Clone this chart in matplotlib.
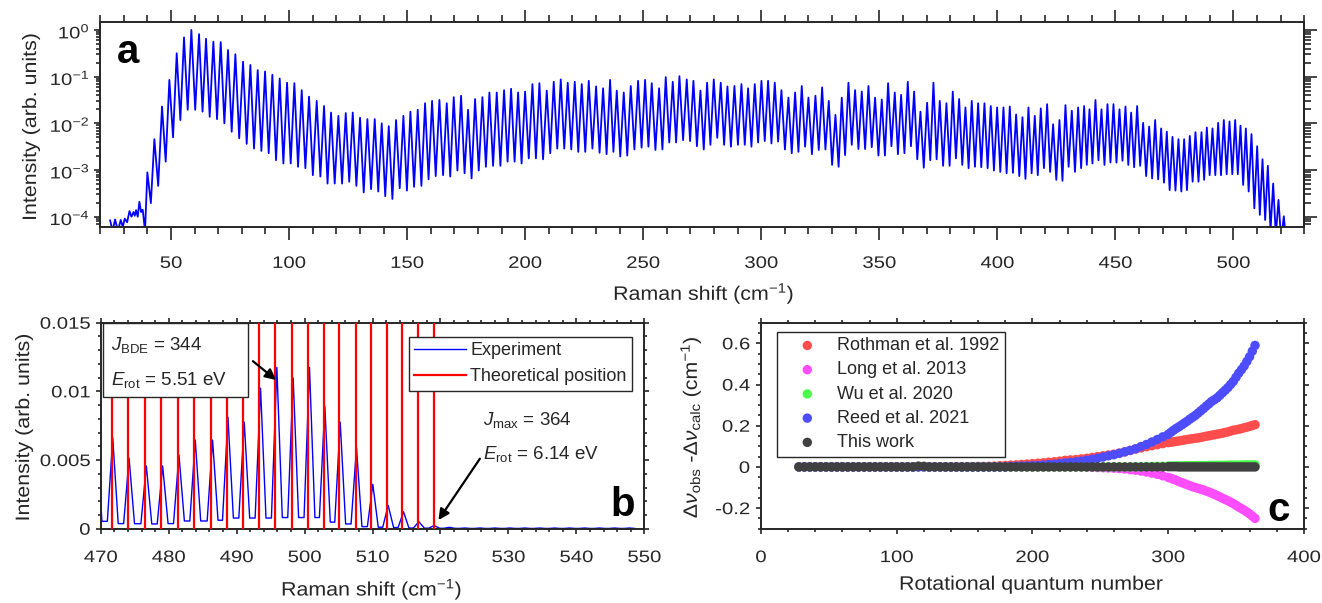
import numpy as np
import matplotlib
matplotlib.use('agg')
import matplotlib.pyplot as plt
from matplotlib.ticker import MultipleLocator, FixedLocator, LogLocator, NullFormatter
from matplotlib.patches import Rectangle
from matplotlib.patheffects import AbstractPathEffect
from matplotlib.transforms import Affine2D

INK = '#262626'
plt.rcParams['font.family'] = ['Liberation Sans', 'DejaVu Sans']
plt.rcParams['mathtext.fontset'] = 'custom'
plt.rcParams['mathtext.rm'] = 'Liberation Sans'
plt.rcParams['mathtext.it'] = 'Liberation Sans:italic'
plt.rcParams['mathtext.bf'] = 'Liberation Sans:bold'
plt.rcParams['axes.unicode_minus'] = False
plt.rcParams['text.color'] = INK
plt.rcParams['axes.labelcolor'] = INK
plt.rcParams['xtick.color'] = INK
plt.rcParams['ytick.color'] = INK

# ---- rotational Raman spectrum: line positions (cm^-1), log10 of peak tops and of the minimum after each line
peak_shift = [
    24.2, 26.3, 28.7, 30.4, 32.4, 34.1, 35.2, 36.6, 38.0,
    39.97, 42.94, 46.18, 49.29, 52.40, 55.50, 58.61, 61.86, 64.82, 67.93,
    71.04, 74.14, 77.25, 80.50, 83.60, 86.71, 89.82, 92.92, 96.03, 99.14,
    102.24, 105.35, 108.45, 111.70, 114.81, 117.77, 120.88, 124.00, 126.96, 130.06,
    133.17, 136.28, 139.24, 142.21, 145.31, 148.42, 151.39, 154.49, 157.60, 160.56,
    163.67, 166.78, 169.74, 172.85, 175.81, 178.78, 181.89, 184.85, 187.96, 191.06,
    194.03, 197.00, 199.96, 203.07, 206.03, 209.14, 212.10, 215.07, 218.03, 221.00,
    223.96, 226.93, 230.03, 233.00, 235.96, 238.79, 241.75, 244.72, 247.82, 250.79,
    253.61, 256.72, 259.54, 262.51, 265.33, 268.44, 271.26, 274.23, 277.05, 279.88,
    282.84, 285.67, 288.63, 291.60, 294.42, 297.24, 300.07, 302.89, 305.72, 308.54,
    311.50, 314.33, 317.15, 319.98, 322.94, 325.77, 328.59, 331.42, 334.09, 336.92,
    339.74, 342.57, 345.39, 348.21, 351.04, 353.72, 356.55, 359.23, 362.05, 364.74,
    367.42, 370.24, 372.93, 375.61, 378.43, 381.11, 383.80, 386.48, 389.16, 391.85,
    394.53, 397.21, 399.90, 402.58, 405.26, 407.94, 410.63, 413.17, 415.85, 418.39,
    421.08, 423.62, 426.30, 428.84, 431.53, 434.21, 436.75, 439.01, 441.55, 444.09,
    446.64, 449.18, 451.72, 454.26, 456.66, 459.20, 461.75, 464.29, 466.83, 469.37,
    471.77, 474.17, 476.71, 479.11, 481.51, 483.91, 486.46, 488.72, 491.12, 493.52,
    495.92, 498.32, 500.72, 502.98, 505.24, 507.64, 510.04, 512.30, 514.56, 516.82,
    519.07, 521.33,
    523.6, 525.8, 528.0, 530.2, 532.4, 534.6, 536.8, 539.0, 541.2, 543.4, 545.6, 547.8,
]
peak_log = [
    -4.08, -4.06, -4.07, -4.04, -3.88, -3.90, -3.86, -3.68, -3.85,
    -3.05, -2.34, -1.64, -1.07, -0.50, -0.16, 0.00, -0.09, -0.19, -0.25,
    -0.26, -0.43, -0.52, -0.68, -0.75, -0.86, -0.89, -0.96, -1.04, -1.13,
    -1.14, -1.29, -1.43, -1.52, -1.63, -1.77, -1.84, -1.78, -1.77, -1.88,
    -1.91, -1.91, -2.00, -2.06, -1.93, -1.84, -1.75, -1.71, -1.57, -1.52,
    -1.50, -1.57, -1.44, -1.41, -1.71, -1.48, -1.44, -1.34, -1.34, -1.29,
    -1.26, -1.34, -1.32, -1.16, -1.14, -1.30, -1.11, -1.06, -1.13, -1.11,
    -1.16, -1.09, -1.21, -1.25, -1.07, -1.30, -1.34, -1.20, -1.09, -1.07,
    -1.14, -1.25, -1.01, -1.11, -0.99, -1.06, -1.09, -1.30, -1.13, -1.06,
    -1.13, -1.21, -1.20, -1.16, -1.25, -1.16, -1.09, -1.09, -1.13, -1.29,
    -1.45, -1.34, -1.20, -1.45, -1.41, -1.23, -1.52, -1.82, -1.45, -1.13,
    -1.29, -1.32, -1.20, -1.45, -1.49, -1.14, -1.34, -1.39, -1.11, -1.32,
    -1.75, -1.56, -1.13, -1.52, -1.57, -1.32, -1.48, -1.66, -1.52, -1.57,
    -1.57, -1.63, -1.66, -1.66, -1.64, -1.81, -1.87, -1.66, -1.84, -1.68,
    -1.59, -2.02, -1.93, -1.61, -1.73, -1.66, -1.63, -1.70, -1.50, -1.70,
    -1.59, -1.59, -1.70, -1.64, -1.77, -1.63, -1.99, -2.07, -1.93, -2.11,
    -2.18, -2.29, -2.34, -2.34, -2.27, -2.19, -2.19, -2.09, -2.11, -1.99,
    -1.93, -1.96, -1.93, -2.05, -2.11, -2.23, -2.49, -2.77, -2.91, -3.29,
    -3.64, -3.99,
    -4.30, -4.30, -4.30, -4.30, -4.30, -4.30, -4.30, -4.30, -4.30, -4.30, -4.30, -4.30,
]
valley_log = [
    -4.30, -4.30, -4.22, -4.12, -4.00, -3.98, -4.00, -3.90, -4.30,
    -3.71, -3.34, -2.82, -2.30, -1.93, -1.71, -1.71, -1.75, -1.86, -1.91,
    -2.00, -2.18, -2.32, -2.44, -2.54, -2.59, -2.64, -2.79, -2.86, -2.86,
    -2.93, -2.96, -3.11, -3.14, -3.29, -3.29, -3.29, -3.25, -3.34, -3.48,
    -3.41, -3.46, -3.56, -3.62, -3.39, -3.44, -3.36, -3.34, -3.20, -3.13,
    -3.11, -3.14, -3.01, -3.07, -3.18, -3.01, -2.93, -2.91, -2.91, -2.82,
    -2.82, -2.86, -2.75, -2.75, -2.77, -2.64, -2.54, -2.54, -2.56, -2.61,
    -2.61, -2.54, -2.63, -2.66, -2.61, -2.71, -2.69, -2.56, -2.52, -2.50,
    -2.57, -2.56, -2.41, -2.41, -2.36, -2.38, -2.49, -2.56, -2.46, -2.31,
    -2.46, -2.50, -2.46, -2.46, -2.50, -2.41, -2.38, -2.43, -2.39, -2.56,
    -2.64, -2.61, -2.50, -2.66, -2.57, -2.56, -2.89, -2.93, -2.68, -2.46,
    -2.55, -2.55, -2.51, -2.69, -2.69, -2.49, -2.66, -2.64, -2.49, -2.77,
    -2.95, -2.79, -2.77, -2.91, -2.91, -2.75, -2.89, -2.96, -2.93, -2.94,
    -2.96, -3.01, -3.04, -3.07, -3.06, -3.13, -3.19, -3.07, -3.11, -2.96,
    -3.04, -3.21, -3.23, -2.93, -3.04, -2.96, -2.89, -2.86, -2.79, -2.89,
    -2.84, -2.84, -2.80, -2.89, -2.94, -2.91, -3.13, -3.18, -3.20, -3.27,
    -3.43, -3.44, -3.46, -3.43, -3.25, -3.25, -3.21, -3.11, -3.11, -3.11,
    -3.09, -3.09, -3.09, -3.32, -3.46, -3.82, -3.96, -4.07, -4.30, -4.40,
    -4.50, -4.60,
    -4.70, -4.70, -4.70, -4.70, -4.70, -4.70, -4.70, -4.70, -4.70, -4.70, -4.70, -4.70,
]

# theoretical line positions near the dissociation limit (cm^-1)
theory_shift = [471.7, 474.0, 476.5, 478.9, 481.4, 483.7, 486.2, 488.6, 491.0, 493.3, 495.7,
                498.2, 500.5, 502.8, 505.0, 507.5, 509.7, 512.1, 514.3, 516.7, 519.1]

# ---- line position residuals versus rotational quantum number
# every 4th J up to 296, every 2nd J from 300 on
J = list(range(28, 300, 4)) + list(range(300, 365, 2))
res_rothman = [
    0, 0, 0, 0, 0, 0, 0, 0, 0, 0, 0, 0, 0, 0, 0, 0, 0, 0, 0, 0,
    0, 0, 0, 0, 0, 0, 0, 0, 0, 0, 0, 0.001, 0.001, 0.002, 0.002, 0.003,
    0.004, 0.006, 0.007, 0.009, 0.010, 0.012, 0.014, 0.016, 0.018, 0.020,
    0.023, 0.025, 0.028, 0.032, 0.034, 0.036, 0.039, 0.042, 0.046, 0.050,
    0.054, 0.058, 0.062, 0.067, 0.073, 0.080, 0.087, 0.092, 0.098, 0.103,
    0.108, 0.113,
    0.118, 0.120, 0.122, 0.124, 0.126, 0.128, 0.131, 0.133, 0.135, 0.137,
    0.139, 0.141, 0.143, 0.146, 0.149, 0.151, 0.154, 0.156, 0.159, 0.161,
    0.164, 0.167, 0.170, 0.174, 0.178, 0.180, 0.183, 0.186, 0.190, 0.193,
    0.197, 0.201, 0.205,
]
res_long = [
    0, 0, 0, 0, 0, 0, 0, 0, 0, 0, 0, 0, 0, 0, 0, 0, 0, 0, 0, 0,
    0, 0, 0, 0, 0, 0, 0, 0, 0, 0, 0, 0, 0, 0, 0, 0, 0, 0, 0, 0,
    0, 0, 0, 0, 0, 0, 0, 0, 0, 0, 0, 0, 0,
    -0.001, -0.002, -0.003, -0.004, -0.005, -0.006, -0.008, -0.010, -0.013, -0.016,
    -0.020, -0.025, -0.030, -0.036, -0.043,
    -0.051, -0.055, -0.060, -0.065, -0.071, -0.076, -0.081, -0.086, -0.091, -0.096,
    -0.100, -0.104, -0.108, -0.112, -0.117, -0.122, -0.127, -0.133, -0.139, -0.145,
    -0.152, -0.158, -0.164, -0.171, -0.178, -0.186, -0.195, -0.202, -0.210, -0.219,
    -0.228, -0.239, -0.250,
]
res_wu = [
    0, 0, 0, 0, 0, 0, 0, 0, 0, 0, 0, 0, 0, 0, 0, 0, 0, 0, 0, 0,
    0, 0, 0, 0, 0, 0, 0, 0, 0, 0, 0, 0, 0, 0, 0, 0, 0, 0, 0, 0,
    0, 0, 0, 0, 0, 0, 0, 0, 0, 0, 0, 0, 0, 0, 0, 0, 0, 0, 0, 0,
    0, 0, 0, 0, 0.002, 0.002, 0.003, 0.003,
    0.004, 0.004, 0.005, 0.005, 0.005, 0.005, 0.006, 0.006, 0.006, 0.006,
    0.006, 0.007, 0.007, 0.007, 0.007, 0.007, 0.008, 0.008, 0.008, 0.008,
    0.008, 0.008, 0.009, 0.009, 0.009, 0.009, 0.009, 0.009, 0.010, 0.010,
    0.010, 0.010, 0.010,
]
res_reed = [
    0, 0, 0, 0, 0, 0, 0, 0, 0, 0, 0, 0, 0, 0, 0, 0, 0, 0, 0, 0,
    0, 0, 0, 0, 0, 0, 0, 0, 0, 0, 0, 0, 0, 0, 0, 0, 0, 0, 0,
    0.002, 0.003, 0.004, 0.005, 0.006, 0.007, 0.009, 0.011, 0.013, 0.016,
    0.019, 0.022, 0.025, 0.028, 0.033, 0.037, 0.042, 0.048, 0.054, 0.059,
    0.066, 0.073, 0.080, 0.088, 0.099, 0.109, 0.121, 0.133, 0.146,
    0.158, 0.168, 0.178, 0.187, 0.195, 0.204, 0.213, 0.222, 0.232, 0.241,
    0.250, 0.261, 0.272, 0.283, 0.295, 0.306, 0.318, 0.326, 0.335, 0.347,
    0.360, 0.372, 0.385, 0.400, 0.415, 0.435, 0.455, 0.472, 0.490, 0.512,
    0.535, 0.562, 0.590,
]
res_this = [
    0, 0, 0, 0, 0, 0, 0, 0, 0, 0, 0, 0, 0, 0, 0, 0, 0, 0, 0, 0,
    0, 0, 0.004, 0.003, 0, 0, 0, 0, 0, 0, 0, 0, 0, 0, 0, 0, 0, 0, 0, 0,
    0, 0, 0, 0, 0, 0, 0, 0, 0, 0, 0, 0, 0, 0, 0, 0, 0, 0, 0, 0,
    0, 0, 0, 0, 0, 0, 0, 0,
    0.001, 0.001, 0.001, 0.001, 0, 0, 0, 0, 0, 0,
    0, 0, 0, 0, 0, 0, 0, 0, 0, 0,
    0, 0, 0, 0, 0, 0, 0, 0, 0, 0,
    0, 0, 0,
]

series_c = [
    ('Rothman et al. 1992', res_rothman, '#ff4d4d'),
    ('Long et al. 2013', res_long, '#ff4dff'),
    ('Wu et al. 2020', res_wu, '#4dff4d'),
    ('Reed et al. 2021', res_reed, '#4d4dff'),
    ('This work', res_this, '#404040'),
]


class WideGlyphs(AbstractPathEffect):
    """Draw a text path widened along its writing direction, one edge (or the middle) held fixed."""

    def __init__(self, factor, anchor='center'):
        super().__init__()
        self.factor = factor
        self.anchor = anchor

    def draw_path(self, renderer, gc, tpath, affine, rgbFace=None):
        ext = tpath.get_extents()
        if self.anchor == 'right':
            x0 = ext.x1
        elif self.anchor == 'left':
            x0 = ext.x0
        else:
            x0 = 0.5 * (ext.x0 + ext.x1)
        widen = Affine2D().translate(-x0, 0).scale(self.factor, 1.0).translate(x0, 0)
        renderer.draw_path(gc, tpath, widen + affine, rgbFace)


def style_axes(ax, xlen, ylen, xpad, ypad):
    for sp in ax.spines.values():
        sp.set_linewidth(1.4)
        sp.set_color(INK)
    ax.tick_params(which='both', direction='out', top=True, right=True, width=1.2,
                   labelsize=12, colors=INK)
    ax.tick_params(axis='x', which='major', length=xlen[0], pad=xpad)
    ax.tick_params(axis='x', which='minor', length=xlen[1], pad=xpad)
    ax.tick_params(axis='y', which='major', length=ylen[0], pad=ypad)
    ax.tick_params(axis='y', which='minor', length=ylen[1], pad=ypad)


def widen_labels(ax):
    for lab in ax.get_xticklabels():
        lab.set_path_effects([WideGlyphs(1.22, 'center')])
    for lab in ax.get_yticklabels():
        lab.set_path_effects([WideGlyphs(1.22, 'right')])
    ax.xaxis.label.set_path_effects([WideGlyphs(1.1, 'center')])
    ax.yaxis.label.set_path_effects([WideGlyphs(1.1, 'center')])


fig = plt.figure(figsize=(13.22, 6.03), dpi=100)
ax_a = fig.add_axes([0.0758, 0.6240, 0.9108, 0.3395])
ax_b = fig.add_axes([0.0762, 0.1232, 0.4112, 0.3416])
ax_c = fig.add_axes([0.5756, 0.1232, 0.4107, 0.3416])

shift = np.array(peak_shift)
tops = 10.0 ** np.array(peak_log)
mins = 10.0 ** np.array(valley_log)

# ---- panel a: full spectrum on a log scale, peak -> minimum -> peak
mid = np.append((shift[:-1] + shift[1:]) / 2, shift[-1] + 1.1)
xa = np.column_stack([shift, mid]).ravel()
ya = np.column_stack([tops, mins]).ravel()
ax_a.plot(xa, ya, color='#0000ff', lw=1.3)
ax_a.set_yscale('log')
ax_a.set_xlim(20, 530)
ax_a.set_ylim(6.1e-5, 1.48)
ax_a.xaxis.set_major_locator(MultipleLocator(50))
ax_a.xaxis.set_minor_locator(MultipleLocator(10))
ax_a.yaxis.set_major_locator(LogLocator(base=10, numticks=20))
ax_a.yaxis.set_minor_locator(LogLocator(base=10, subs=np.arange(2, 10), numticks=20))
ax_a.yaxis.set_minor_formatter(NullFormatter())
style_axes(ax_a, (9.0, 4.8), (4.0, 2.6), 12.0, 3.4)
ax_a.tick_params(axis='y', which='both', right=False)
# right-hand ticks are longer than the left ones
ax_ar = ax_a.secondary_yaxis('right')
ax_ar.yaxis.set_major_locator(LogLocator(base=10, numticks=20))
ax_ar.yaxis.set_minor_locator(LogLocator(base=10, subs=np.arange(2, 10), numticks=20))
ax_ar.yaxis.set_minor_formatter(NullFormatter())
ax_ar.tick_params(which='both', direction='out', width=1.2, colors=INK,
                  labelright=False, labelleft=False)
ax_ar.tick_params(which='major', length=9.0)
ax_ar.tick_params(which='minor', length=4.8)
ax_ar.spines['right'].set_linewidth(1.4)
ax_ar.spines['right'].set_color(INK)

ax_a.set_xlabel('Raman shift (cm$^{-1}$)', fontsize=14)
ax_a.xaxis.set_label_coords(0.5015, -0.265)
ax_a.set_ylabel('Intensity (arb. units)', fontsize=14)
ax_a.yaxis.set_label_coords(-0.05, 0.49)
ax_a.text(0.023, 0.853, 'a', transform=ax_a.transAxes, fontsize=29, fontweight='bold',
          ha='center', va='center', color='black')

# ---- panel b: zoom on the high-J end, linear scale
half_w = 0.8
xb, yb = [], []
for i in range(len(shift)):
    if shift[i] < 466:
        continue
    prev_min = mins[i - 1] if i > 0 else mins[i]
    xb += [shift[i] - half_w, shift[i], shift[i] + half_w]
    yb += [prev_min, tops[i], mins[i]]
ax_b.plot(xb, yb, color='#0000ff', lw=1.0, label='Experiment', zorder=2)
for k, pos in enumerate(theory_shift):
    ax_b.axvline(pos, color='#ff0000', lw=1.6, zorder=3,
                 label='Theoretical position' if k == 0 else None)
ax_b.set_xlim(470, 550)
ax_b.set_ylim(0, 0.015)
ax_b.xaxis.set_major_locator(MultipleLocator(10))
ax_b.xaxis.set_minor_locator(MultipleLocator(2))
ax_b.yaxis.set_major_locator(FixedLocator([0, 0.005, 0.01, 0.015]))
ax_b.yaxis.set_minor_locator(MultipleLocator(0.001))
ax_b.yaxis.set_major_formatter(lambda v, p: '%g' % v)
style_axes(ax_b, (3.9, 2.2), (3.9, 2.2), 11.5, 3.6)
ax_b.set_xlabel('Raman shift (cm$^{-1}$)', fontsize=14)
ax_b.xaxis.set_label_coords(0.499, -0.233)
ax_b.set_ylabel('Intensity (arb. units)', fontsize=14)
ax_b.yaxis.set_label_coords(-0.1245, 0.494)

leg_b = ax_b.legend(loc='upper right', bbox_to_anchor=(0.977, 0.932), fontsize=13,
                    frameon=True, fancybox=False, edgecolor=INK, framealpha=1,
                    handlelength=2.86, handletextpad=0.22, borderpad=0.3, labelspacing=0.5,
                    borderaxespad=0)
leg_b.get_frame().set_linewidth(1.0)
leg_b.set_zorder(6)

ax_b.add_patch(Rectangle((0.004, 0.638), 0.267, 0.359, transform=ax_b.transAxes,
                         facecolor='white', edgecolor=INK, lw=1.0, zorder=5))
ax_b.text(0.019, 0.867, '$J_{\\rm BDE}$ = 344', transform=ax_b.transAxes, fontsize=13.5,
          va='baseline', ha='left', zorder=6)
ax_b.text(0.019, 0.698, '$E_{\\rm rot}$ = 5.51 eV', transform=ax_b.transAxes, fontsize=13.5,
          va='baseline', ha='left', zorder=6)
ax_b.text(0.704, 0.503, '$J_{\\rm max}$ = 364', transform=ax_b.transAxes, fontsize=13.5,
          va='baseline', ha='left')
ax_b.text(0.704, 0.338, '$E_{\\rm rot}$ = 6.14 eV', transform=ax_b.transAxes, fontsize=13.5,
          va='baseline', ha='left')
arrow = dict(arrowstyle='-|>', color='black', lw=1.6, mutation_scale=16, shrinkA=0, shrinkB=0)
ax_b.annotate('', xy=(495.8, 0.01083), xytext=(492.4, 0.0122), arrowprops=arrow, zorder=7)
ax_b.annotate('', xy=(519.7, 0.00063), xytext=(525.8, 0.0051), arrowprops=arrow)
ax_b.text(0.961, 0.115, 'b', transform=ax_b.transAxes, fontsize=29, fontweight='bold',
          ha='center', va='center', color='black')

# ---- panel c: residuals of line positions
for k, (name, vals, col) in enumerate(series_c):
    ax_c.scatter(J, vals, s=46, color=col, edgecolors='none', label=name, zorder=2 + k)
ax_c.set_xlim(0, 400)
ax_c.set_ylim(-0.3, 0.7)
ax_c.xaxis.set_major_locator(MultipleLocator(100))
ax_c.xaxis.set_minor_locator(MultipleLocator(20))
ax_c.yaxis.set_major_locator(FixedLocator([-0.2, 0, 0.2, 0.4, 0.6]))
ax_c.yaxis.set_minor_locator(MultipleLocator(0.05))
ax_c.yaxis.set_major_formatter(lambda v, p: '%g' % round(v, 3))
style_axes(ax_c, (3.9, 2.2), (3.9, 2.2), 11.5, 4.0)
ax_c.set_xlabel('Rotational quantum number', fontsize=14)
ax_c.xaxis.set_label_coords(0.499, -0.233)
ax_c.set_ylabel('$\\Delta\\nu_{\\rm obs}$ -$\\Delta\\nu_{\\rm calc}$ (cm$^{-1}$)', fontsize=14)
ax_c.yaxis.set_label_coords(-0.105, 0.494)
leg_c = ax_c.legend(loc='upper left', bbox_to_anchor=(0.03, 0.956), fontsize=13,
                    frameon=True, fancybox=False, edgecolor=INK, framealpha=1,
                    handlelength=2.73, handletextpad=0.3, borderpad=0.3, labelspacing=0.4,
                    borderaxespad=0, scatterpoints=1)
leg_c.get_frame().set_linewidth(1.0)
ax_c.text(0.954, 0.091, 'c', transform=ax_c.transAxes, fontsize=29, fontweight='bold',
          ha='center', va='center', color='black')

for ax in (ax_a, ax_b, ax_c):
    widen_labels(ax)

fig.savefig('out.png', dpi=100, facecolor='white')
